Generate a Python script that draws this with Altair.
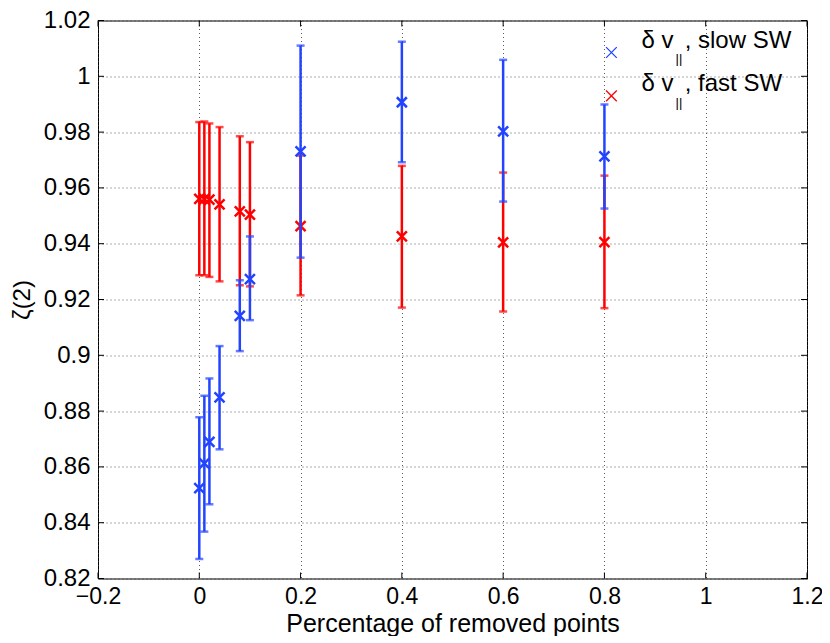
import altair as alt
import pandas as pd

# ---- data ----
removed = [0.0, 0.01, 0.02, 0.04, 0.08, 0.1, 0.2, 0.4, 0.6, 0.8]
slow_zeta = [0.8524, 0.8613, 0.8690, 0.8849, 0.9141, 0.9273, 0.9731, 0.9907, 0.9803, 0.9713]
slow_lo = [0.8270, 0.8368, 0.8466, 0.8663, 0.9015, 0.9126, 0.9350, 0.9692, 0.9551, 0.9526]
slow_hi = [0.8778, 0.8855, 0.8917, 0.9033, 0.9269, 0.9426, 1.0110, 1.0124, 1.0059, 0.9899]
fast_zeta = [0.9561, 0.9560, 0.9558, 0.9541, 0.9516, 0.9504, 0.9463, 0.9426, 0.9405, 0.9406]
fast_lo = [0.9287, 0.9287, 0.9281, 0.9265, 0.9251, 0.9247, 0.9215, 0.9171, 0.9157, 0.9169]
fast_hi = [0.9836, 0.9838, 0.9831, 0.9818, 0.9785, 0.9764, 0.9716, 0.9679, 0.9655, 0.9644]

x_ticks = [-0.2, 0.0, 0.2, 0.4, 0.6, 0.8, 1.0, 1.2]
y_ticks = [0.82, 0.84, 0.86, 0.88, 0.90, 0.92, 0.94, 0.96, 0.98, 1.00, 1.02]
legend_labels = ["slow SW", "fast SW"]

BLUE = "#2244ff"
RED = "#ff0000"
FONT = "Liberation Sans"
W, H = 709, 558
XPATH = "M-1,-1L1,1M-1,1L1,-1"

slow = pd.DataFrame({"x": removed, "zeta": slow_zeta, "lo": slow_lo, "hi": slow_hi})
fast = pd.DataFrame({"x": removed, "zeta": fast_zeta, "lo": fast_lo, "hi": fast_hi})

xs = alt.Scale(domain=[-0.2, 1.2], nice=False, zero=False)
ys = alt.Scale(domain=[0.82, 1.02], nice=False, zero=False)

x_axis = alt.Axis(values=x_ticks, title="Percentage of removed points",
                  labelExpr="format(datum.value, '~g')", grid=True, ticks=False,
                  domain=False, labelPadding=7, titlePadding=3, titleFontSize=25,
                  labelFontSize=23, labelFlush=False, labelOverlap=False)
y_axis = alt.Axis(values=y_ticks, title="ζ(2)",
                  labelExpr="format(datum.value, '~g')", grid=True, ticks=False,
                  domain=False, labelPadding=8, titlePadding=9,
                  labelFlush=False, labelOverlap=False)


def X(f):
    return alt.X(f, scale=xs, axis=x_axis)


def Y(f):
    return alt.Y(f, scale=ys, axis=y_axis)


def series(d, color):
    base = alt.Chart(d)
    bars = base.mark_rule(color=color, strokeWidth=2.5).encode(
        x=X("x:Q"), y=Y("lo:Q"), y2="hi:Q")
    cap_lo = base.mark_tick(color=color, orient="horizontal", size=8, thickness=2.5).encode(
        x=X("x:Q"), y=Y("lo:Q"))
    cap_hi = base.mark_tick(color=color, orient="horizontal", size=8, thickness=2.5).encode(
        x=X("x:Q"), y=Y("hi:Q"))
    pts = base.mark_point(shape=XPATH, size=100, color=color, strokeWidth=2.5,
                          filled=False, opacity=1).encode(x=X("x:Q"), y=Y("zeta:Q"))
    return [bars, cap_lo, cap_hi, pts]


# inward ticks (MATLAB style) on all four sides
xt = alt.Chart(pd.DataFrame({"x": x_ticks}))
yt = alt.Chart(pd.DataFrame({"y": y_ticks}))
tick_layers = [
    xt.mark_rule(color="black", strokeWidth=1).encode(
        x=X("x:Q"), y=alt.value(H), y2=alt.value(H - 6)),
    xt.mark_rule(color="black", strokeWidth=1).encode(
        x=X("x:Q"), y=alt.value(0), y2=alt.value(6)),
    yt.mark_rule(color="black", strokeWidth=1).encode(
        y=Y("y:Q"), x=alt.value(0), x2=alt.value(6)),
    yt.mark_rule(color="black", strokeWidth=1).encode(
        y=Y("y:Q"), x=alt.value(W), x2=alt.value(W - 6)),
]

# custom legend (TeX-like label with subscript)
legend_layers = []
for i, (label, color) in enumerate(zip(legend_labels, [BLUE, RED])):
    dy = i * 43.4
    one = alt.Chart(pd.DataFrame({"t": [", " + label]}))
    legend_layers.append(one.mark_point(shape=XPATH, size=115, color=color, strokeWidth=1.3,
                                        filled=False, opacity=1).encode(
        x=alt.value(513.4), y=alt.value(32.0 + dy)))
    legend_layers.append(one.mark_text(text="δ v", font=FONT, fontSize=24, align="left",
                                       baseline="alphabetic", color="black").encode(
        x=alt.value(543.4), y=alt.value(27.4 + dy)))
    legend_layers.append(one.mark_text(text="||", font=FONT, fontSize=13, align="left",
                                       baseline="alphabetic", color="#000000").encode(
        x=alt.value(577.5), y=alt.value(42.7 + dy)))
    legend_layers.append(one.mark_text(font=FONT, fontSize=24, align="left",
                                       baseline="alphabetic", color="black").encode(
        x=alt.value(586.7), y=alt.value(27.4 + dy), text="t:N"))

layers = series(fast, RED) + series(slow, BLUE) + tick_layers + legend_layers

chart = alt.layer(*layers).properties(
    width=W, height=H,
    padding={"left": 90, "top": 12.5, "right": 15, "bottom": 57},
    autosize=alt.AutoSizeParams(type="none"),
).configure_view(stroke="black", strokeWidth=1).configure_axis(
    labelFont=FONT, titleFont=FONT, labelFontSize=24, titleFontSize=24,
    labelColor="black", titleColor="black", titleFontWeight="normal",
    gridColor="#333333", gridDash=[1, 3], gridWidth=1, gridOpacity=0.8,
)

chart.save("out.html", embed_options={"renderer": "svg", "actions": False})
